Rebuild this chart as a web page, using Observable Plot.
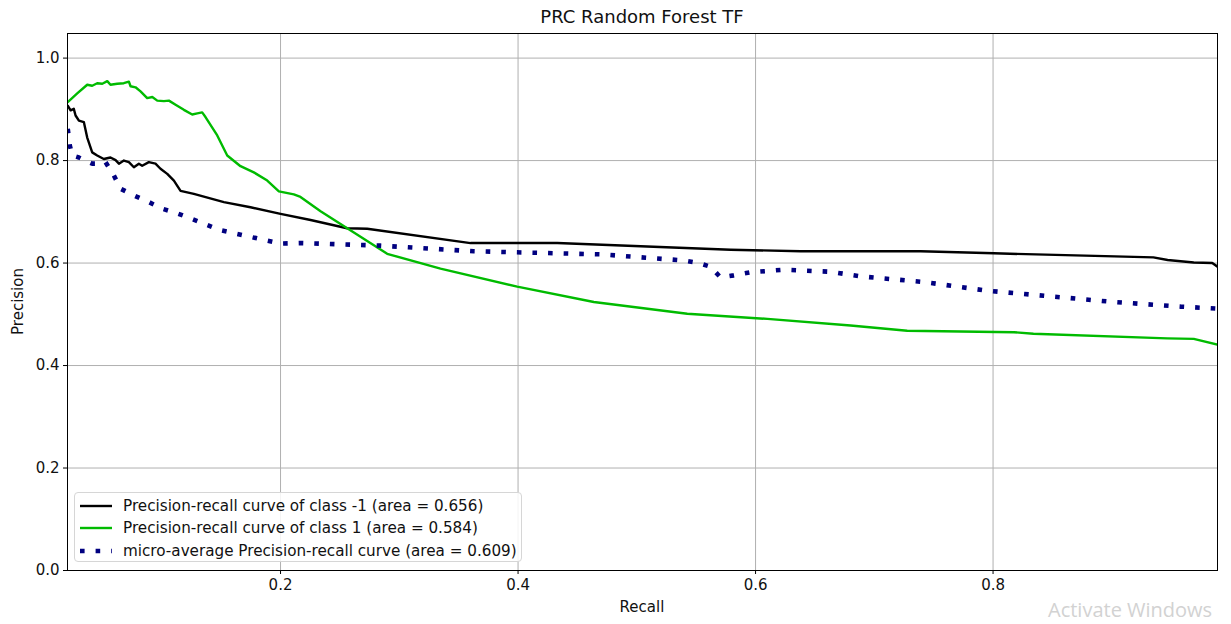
<!DOCTYPE html>
<html>
<head>
<meta charset="utf-8">
<script src="https://cdn.jsdelivr.net/npm/d3@7"></script>
<script src="https://cdn.jsdelivr.net/npm/@observablehq/plot@0.6"></script>
<style>
  html, body { margin: 0; padding: 0; background: #fff; }
  body { width: 1231px; height: 624px; position: relative; overflow: hidden; font-family: "DejaVu Sans", sans-serif; }
  #title { position: absolute; left: 67px; width: 1150px; top: 6px; text-align: center; font-size: 18px; line-height: 22px; color: #111; white-space: nowrap; }
  #chart { position: absolute; left: 0; top: 26px; }
  #legend { position: absolute; left: 74px; top: 492px; width: 448px; height: 70px; background: rgba(255,255,255,0.85);
            border: 1px solid #d6d6d6; border-radius: 4px; box-sizing: border-box; }
  .row { position: absolute; left: 4px; height: 20px; display: flex; align-items: center; font-size: 15.2px; color: #111; white-space: nowrap; }
  .row svg { margin-right: 10px; }
  #wm { position: absolute; left: 1048px; top: 599px; font-family: "Open Sans", sans-serif; font-size: 20px; line-height: 22px; color: #d2d2d2; white-space: nowrap; }
</style>
</head>
<body>
<div id="title">PRC Random Forest TF</div>
<div id="chart"></div>
<div id="legend"></div>
<div id="wm">Activate Windows</div>
<script>
// ---- data ----
const recallNeg = [0.0208,0.0232,0.0259,0.0274,0.0302,0.0344,0.0372,0.0414,0.0456,0.0512,0.0568,0.0611,0.0639,0.0681,0.0723,0.0765,0.0807,0.0835,0.0891,0.0947,0.0989,0.1046,0.1102,0.1158,0.127,0.1523,0.1747,0.2,0.2253,0.256,0.273,0.36,0.433,0.579,0.638,0.739,0.8007,0.935,0.947,0.969,0.9846,0.989];
const precisionNeg = [0.907,0.898,0.901,0.888,0.878,0.875,0.845,0.816,0.810,0.803,0.806,0.801,0.794,0.800,0.797,0.787,0.794,0.790,0.797,0.794,0.784,0.774,0.761,0.741,0.735,0.719,0.709,0.696,0.684,0.668,0.667,0.639,0.639,0.626,0.623,0.623,0.619,0.611,0.606,0.601,0.600,0.593];

const recallPos = [0.0208,0.0288,0.0372,0.0414,0.0456,0.0499,0.0541,0.0568,0.0625,0.068,0.0723,0.0737,0.0779,0.0821,0.0877,0.092,0.0962,0.1018,0.106,0.1116,0.1186,0.1256,0.1299,0.134,0.1368,0.1467,0.1551,0.1663,0.1775,0.1888,0.1986,0.2112,0.2168,0.2337,0.2898,0.3347,0.3993,0.4638,0.5425,0.61,0.68,0.7277,0.8175,0.834,0.9467,0.969,0.989];
const precisionPos = [0.914,0.931,0.948,0.946,0.951,0.950,0.955,0.948,0.950,0.951,0.954,0.945,0.943,0.935,0.922,0.924,0.917,0.916,0.917,0.909,0.899,0.890,0.892,0.894,0.885,0.849,0.810,0.789,0.777,0.761,0.740,0.734,0.729,0.701,0.618,0.589,0.554,0.524,0.501,0.491,0.478,0.468,0.465,0.462,0.453,0.452,0.441];

const recallMicro = [0.0208,0.0226,0.0246,0.0302,0.0358,0.0414,0.047,0.0526,0.0596,0.0653,0.0765,0.0891,0.1004,0.113,0.1256,0.1495,0.2,0.2168,0.284,0.3628,0.4695,0.5396,0.5522,0.562,0.5705,0.5817,0.5958,0.6238,0.6632,0.6884,0.7418,0.7951,0.8484,0.9017,0.9579,0.989];
const precisionMicro = [0.862,0.829,0.810,0.806,0.800,0.794,0.794,0.797,0.771,0.745,0.732,0.719,0.706,0.697,0.686,0.664,0.638,0.639,0.634,0.623,0.617,0.605,0.600,0.593,0.572,0.576,0.582,0.587,0.583,0.574,0.563,0.546,0.535,0.524,0.515,0.511];

const seriesNames = [
  "Precision-recall curve of class -1 (area = 0.656)",
  "Precision-recall curve of class 1 (area = 0.584)",
  "micro-average Precision-recall curve (area = 0.609)"
];
const xTicks = [0.2, 0.4, 0.6, 0.8];
const yTicks = [0.0, 0.2, 0.4, 0.6, 0.8, 1.0];

const toRows = (xs, ys) => xs.map((r, i) => ({recall: r, precision: ys[i]}));
const negRows = toRows(recallNeg, precisionNeg);
const posRows = toRows(recallPos, precisionPos);
const microRows = toRows(recallMicro, precisionMicro);

const colors = ["#000000", "#00bb00", "#000080"];

const fmt = d3.format(".1f");
const chart = Plot.plot({
  width: 1231,
  height: 598,
  marginLeft: 67,
  marginRight: 14,
  marginTop: 7,
  marginBottom: 54,
  style: {fontFamily: "DejaVu Sans, sans-serif", fontSize: "15px", color: "#111", background: "#fff"},
  x: {domain: [0.0206, 0.989]},
  y: {domain: [0, 1.048]},
  marks: [
    Plot.gridX(xTicks, {stroke: "#b0b0b0", strokeOpacity: 1, strokeWidth: 1}),
    Plot.gridY(yTicks, {stroke: "#b0b0b0", strokeOpacity: 1, strokeWidth: 1}),
    Plot.line(negRows, {x: "recall", y: "precision", stroke: colors[0], strokeWidth: 2.4, clip: true}),
    Plot.line(posRows, {x: "recall", y: "precision", stroke: colors[1], strokeWidth: 2.4, clip: true}),
    Plot.line(microRows, {x: "recall", y: "precision", stroke: colors[2], strokeWidth: 4.6, strokeDasharray: "4.6,11", strokeLinecap: "butt", strokeLinejoin: "miter", clip: true}),
    Plot.frame({stroke: "#000", strokeWidth: 1}),
    Plot.axisX(xTicks, {tickSize: 4, tickPadding: 5, tickFormat: fmt, fontSize: 15, label: null, stroke: "#000"}),
    Plot.axisY(yTicks, {tickSize: 4, tickPadding: 4, tickFormat: fmt, fontSize: 15, label: null, stroke: "#000"})
  ]
});
document.getElementById("chart").appendChild(chart);

// axis titles
const svg = d3.select(chart);
svg.append("text").attr("x", 642).attr("y", 586).attr("text-anchor", "middle")
  .attr("font-size", 15).attr("fill", "#111").text("Recall");
svg.append("text").attr("transform", "translate(23," + (7 + 537/2) + ") rotate(-90)").attr("text-anchor", "middle")
  .attr("font-size", 15).attr("fill", "#111").text("Precision");

// legend
const lg = document.getElementById("legend");
const tops = [3, 25, 48];
seriesNames.forEach((name, i) => {
  const row = document.createElement("div");
  row.className = "row";
  row.style.top = tops[i] + "px";
  const dash = i === 2 ? 'stroke-dasharray="4.6,11" stroke-width="4.6"' : 'stroke-width="2.4"';
  row.innerHTML = `<svg width="34" height="10"><line x1="1" y1="5" x2="33" y2="5" stroke="${colors[i]}" ${dash}/></svg><span>${name}</span>`;
  lg.appendChild(row);
});
</script>
</body>
</html>
